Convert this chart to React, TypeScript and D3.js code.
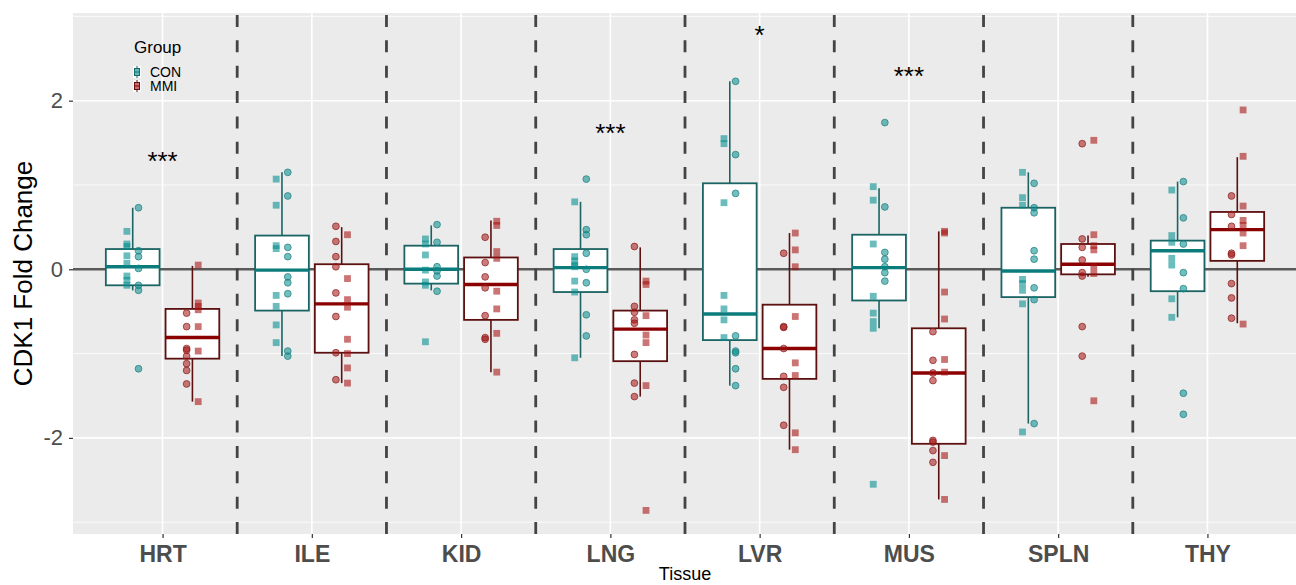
import React, { useEffect, useRef } from 'react';
import * as d3 from 'd3';

// categories and groups
const tissues = ['HRT', 'ILE', 'KID', 'LNG', 'LVR', 'MUS', 'SPLN', 'THY'];
const groups = ['CON', 'MMI'];

// box stats per tissue: [lower whisker, q1, median, q3, upper whisker]
const conBoxes = [
  [-0.25, -0.19, 0.03, 0.24, 0.73],
  [-1.03, -0.49, -0.01, 0.4, 1.15],
  [-0.25, -0.17, 0.0, 0.28, 0.52],
  [-1.05, -0.27, 0.02, 0.24, 0.8],
  [-1.38, -0.84, -0.53, 1.02, 2.23],
  [-0.7, -0.37, 0.02, 0.41, 0.96],
  [-1.83, -0.33, -0.02, 0.73, 1.15],
  [-0.57, -0.26, 0.22, 0.34, 1.04],
];
const mmiBoxes = [
  [-1.57, -1.06, -0.81, -0.47, 0.04],
  [-1.35, -0.99, -0.41, 0.06, 0.5],
  [-1.22, -0.6, -0.18, 0.14, 0.58],
  [-1.51, -1.09, -0.71, -0.49, 0.26],
  [-2.14, -1.3, -0.94, -0.42, 0.43],
  [-2.73, -2.07, -1.23, -0.7, 0.45],
  [-0.09, -0.06, 0.06, 0.3, 0.4],
  [-0.64, 0.1, 0.47, 0.68, 1.33],
];

// individual samples (squares / circles)
const conSquares = [
  [0.45, 0.3, 0.27, 0.16, 0.07, -0.08, -0.13, -0.19],
  [1.07, 0.76, 0.28, 0.245, -0.31, -0.44, -0.66, -0.87],
  [0.36, 0.3, 0.17, -0.01, -0.15, -0.19, -0.86],
  [0.8, 0.15, 0.1, 0.05, 0.03, -0.14, -0.27, -1.05],
  [1.55, 1.49, 0.79, -0.31, -0.47, -0.6, -0.81],
  [0.98, 0.82, 0.3, -0.32, -0.52, -0.62, -0.7, -2.55],
  [1.15, 0.85, 0.76, -0.12, -0.17, -0.25, -0.41, -1.93],
  [0.94, 0.4, 0.32, 0.13, 0.05, -0.35, -0.57],
];
const conCircles = [
  [0.73, 0.22, 0.15, 0.01, -0.19, -0.25, -1.18],
  [1.15, 0.87, 0.26, 0.15, -0.09, -0.16, -0.29, -0.97, -1.03],
  [0.53, 0.32, 0.03, -0.02, -0.08, -0.26],
  [1.07, 0.47, 0.41, 0.19, 0.0, -0.16, -0.54, -0.79],
  [2.23, 1.36, 0.9, -0.79, -0.97, -0.99, -1.18, -1.38],
  [1.74, 0.74, 0.2, 0.12, 0.03, -0.04, -0.14],
  [1.02, 0.73, 0.67, 0.22, 0.12, -0.22, -0.36, -1.83],
  [1.04, 0.61, 0.3, -0.04, -0.23, -1.47, -1.72],
];
const mmiCircles = [
  [-0.52, -0.68, -0.94, -0.96, -1.03, -1.12, -1.2, -1.36],
  [0.51, 0.33, 0.15, 0.03, -0.28, -0.56, -0.99, -1.31],
  [0.38, 0.08, -0.09, -0.22, -0.55, -0.81, -0.83],
  [0.27, -0.44, -0.51, -0.6, -0.64, -1.01, -1.35, -1.51],
  [0.19, -0.68, -0.69, -0.94, -1.27, -1.4, -1.85],
  [-0.74, -1.08, -1.23, -1.32, -2.03, -2.05, -2.15, -2.29],
  [1.49, 0.36, 0.26, 0.11, -0.04, -0.08, -0.68, -1.03],
  [0.87, 0.65, 0.51, 0.19, 0.17, -0.17, -0.34, -0.58],
];
const mmiSquares = [
  [0.05, -0.4, -0.44, -0.48, -0.68, -0.97, -1.57],
  [0.41, -0.11, -0.36, -0.45, -0.83, -1.0, -1.17, -1.35],
  [0.57, 0.52, 0.21, 0.13, -0.26, -0.47, -0.76, -1.22],
  [-0.14, -0.18, -0.55, -0.78, -0.87, -1.38, -2.86],
  [0.43, 0.23, 0.03, -0.56, -1.11, -1.26, -1.94, -2.14],
  [0.45, 0.43, -0.27, -0.59, -1.07, -1.22, -2.21, -2.73],
  [1.53, 0.41, 0.28, 0.23, 0.03, -0.05, -1.56],
  [1.89, 1.34, 0.75, 0.58, 0.52, 0.43, 0.28, -0.65],
];

// significance annotations
const sigTissues = ['HRT', 'LNG', 'LVR', 'MUS'];
const sigLabels = ['***', '***', '*', '***'];
const sigY = [1.32, 1.65, 2.81, 2.33];

const yTicks = [-2, 0, 2];
const yMinor = [-3, -1, 1, 3];

const App = () => {
  const ref = useRef<SVGSVGElement>(null);

  useEffect(() => {
    const width = 1296;
    const height = 585;
    const left = 73;
    const right = 1297;
    const top = 13;
    const bottom = 534;
    const font = '"Liberation Sans", Arial, sans-serif';

    const svg = d3.select(ref.current);
    svg.selectAll('*').remove();
    svg.attr('width', width).attr('height', height);

    const x = d3.scalePoint<string>().domain(tissues).range([left, right]).padding(0.6);
    const step = x.step();
    const dodge = d3.scalePoint<string>().domain(groups).range([-0.2 * step, 0.2 * step]);
    const boxW = 0.36 * step;
    const y = d3.scaleLinear().domain([-3.14, 3.04]).range([bottom, top]);

    const colors: Record<string, any> = {
      CON: { line: '#1b6464', med: '#0b7b7b', pt: '#008b8b', ptStroke: '#1f7f7f' },
      MMI: { line: '#5c1010', med: '#8b0000', pt: '#a50f0f', ptStroke: '#8a2020' },
    };

    // panel
    svg.append('rect').attr('x', left).attr('y', top)
      .attr('width', right - left).attr('height', bottom - top).attr('fill', '#ebebeb');

    const grid = svg.append('g');
    yMinor.forEach(v => {
      grid.append('line').attr('x1', left).attr('x2', right)
        .attr('y1', y(v)).attr('y2', y(v)).attr('stroke', '#fff').attr('stroke-width', 0.8);
    });
    yTicks.forEach(v => {
      grid.append('line').attr('x1', left).attr('x2', right)
        .attr('y1', y(v)).attr('y2', y(v)).attr('stroke', '#fff').attr('stroke-width', 1.6);
    });
    tissues.forEach(t => {
      grid.append('line').attr('x1', x(t)!).attr('x2', x(t)!)
        .attr('y1', top).attr('y2', bottom).attr('stroke', '#fff').attr('stroke-width', 1.6);
    });

    // reference line at 0
    svg.append('line').attr('x1', left).attr('x2', right)
      .attr('y1', y(0)).attr('y2', y(0)).attr('stroke', '#5a5a5a').attr('stroke-width', 2.6);

    // dashed separators between tissues
    tissues.slice(1).forEach(t => {
      const xs = x(t)! - step / 2;
      svg.append('line').attr('x1', xs).attr('x2', xs)
        .attr('y1', bottom).attr('y2', top)
        .attr('stroke', '#444').attr('stroke-width', 2.8)
        .attr('stroke-dasharray', '12 13.35');
    });

    // boxplots
    const drawBoxes = (g: string, boxes: number[][]) => {
      const c = colors[g];
      tissues.forEach((t, i) => {
        const [lo, q1, med, q3, hi] = boxes[i];
        const cx = x(t)! + dodge(g)!;
        const bg = svg.append('g');
        bg.append('line').attr('x1', cx).attr('x2', cx).attr('y1', y(hi)).attr('y2', y(q3))
          .attr('stroke', c.line).attr('stroke-width', 1.6);
        bg.append('line').attr('x1', cx).attr('x2', cx).attr('y1', y(q1)).attr('y2', y(lo))
          .attr('stroke', c.line).attr('stroke-width', 1.6);
        bg.append('rect').attr('x', cx - boxW / 2).attr('y', y(q3))
          .attr('width', boxW).attr('height', y(q1) - y(q3))
          .attr('fill', '#fff').attr('stroke', c.line).attr('stroke-width', 1.8);
        bg.append('line').attr('x1', cx - boxW / 2).attr('x2', cx + boxW / 2)
          .attr('y1', y(med)).attr('y2', y(med))
          .attr('stroke', c.med).attr('stroke-width', 3.4);
      });
    };
    drawBoxes('CON', conBoxes);
    drawBoxes('MMI', mmiBoxes);

    // points
    const drawSquares = (g: string, vals: number[][], off: number) => {
      const c = colors[g];
      tissues.forEach((t, i) => {
        const cx = x(t)! + dodge(g)! + off;
        svg.append('g').selectAll('rect').data(vals[i]).enter().append('rect')
          .attr('x', cx - 3.4).attr('y', d => y(d) - 3.4)
          .attr('width', 6.8).attr('height', 6.8)
          .attr('fill', c.pt).attr('fill-opacity', 0.58);
      });
    };
    const drawCircles = (g: string, vals: number[][], off: number) => {
      const c = colors[g];
      tissues.forEach((t, i) => {
        const cx = x(t)! + dodge(g)! + off;
        svg.append('g').selectAll('circle').data(vals[i]).enter().append('circle')
          .attr('cx', cx).attr('cy', d => y(d)).attr('r', 3.4)
          .attr('fill', c.pt).attr('fill-opacity', 0.55)
          .attr('stroke', c.ptStroke).attr('stroke-opacity', 0.8).attr('stroke-width', 0.9);
      });
    };
    drawSquares('CON', conSquares, -5.8);
    drawCircles('CON', conCircles, 5.8);
    drawCircles('MMI', mmiCircles, -5.8);
    drawSquares('MMI', mmiSquares, 5.8);

    // significance stars
    svg.append('g').selectAll('text').data(sigTissues).enter().append('text')
      .attr('x', d => x(d)!).attr('y', (d, i) => y(sigY[i]) + 12)
      .attr('text-anchor', 'middle').attr('font-family', font).attr('font-size', 26)
      .attr('fill', '#000').text((d, i) => sigLabels[i]);

    // axes
    const ax = svg.append('g').attr('transform', `translate(0,${bottom})`)
      .call(d3.axisBottom(x).tickSize(4).tickPadding(8));
    ax.select('.domain').remove();
    ax.selectAll('line').attr('stroke', '#333').attr('stroke-width', 1.2);
    ax.selectAll('text').attr('font-family', font).attr('font-size', 23)
      .attr('font-weight', 'bold').attr('fill', '#4d4d4d');

    const ay = svg.append('g').attr('transform', `translate(${left},0)`)
      .call(d3.axisLeft(y).tickValues(yTicks).tickFormat(d => String(d)).tickSize(4).tickPadding(6));
    ay.select('.domain').remove();
    ay.selectAll('line').attr('stroke', '#333').attr('stroke-width', 1.2);
    ay.selectAll('text').attr('font-family', font).attr('font-size', 22).attr('fill', '#4d4d4d');

    svg.append('text').attr('x', (left + right) / 2).attr('y', 580)
      .attr('text-anchor', 'middle').attr('font-family', font).attr('font-size', 18)
      .attr('fill', '#000').text('Tissue');
    svg.append('text').attr('transform', `translate(32,${(top + bottom) / 2}) rotate(-90)`)
      .attr('text-anchor', 'middle').attr('font-family', font).attr('font-size', 26)
      .attr('fill', '#000').text('CDK1 Fold Change');

    // legend
    const lg = svg.append('g');
    lg.append('text').attr('x', 134).attr('y', 53).attr('font-family', font)
      .attr('font-size', 17).attr('fill', '#000').text('Group');
    groups.forEach((g, i) => {
      const c = colors[g];
      const ky = 72 + i * 14;
      lg.append('rect').attr('x', 133).attr('y', ky - 6).attr('width', 8).attr('height', 12).attr('fill', '#fff');
      lg.append('line').attr('x1', 137).attr('x2', 137).attr('y1', ky - 6).attr('y2', ky + 6)
        .attr('stroke', c.line).attr('stroke-width', 1);
      lg.append('rect').attr('x', 134.5).attr('y', ky - 3.5).attr('width', 5).attr('height', 7)
        .attr('fill', '#fff').attr('stroke', c.line).attr('stroke-width', 1);
      lg.append('rect').attr('x', 134.5).attr('y', ky - 3).attr('width', 5).attr('height', 6)
        .attr('fill', c.pt).attr('fill-opacity', 0.6);
      lg.append('line').attr('x1', 134.5).attr('x2', 139.5).attr('y1', ky).attr('y2', ky)
        .attr('stroke', c.med).attr('stroke-width', 1);
      lg.append('text').attr('x', 150).attr('y', ky).attr('dy', '0.35em').attr('font-family', font)
        .attr('font-size', 14).attr('fill', '#000').text(g);
    });
  }, []);

  return (
    <div style={{ position: 'absolute', left: 0, top: 0 }}>
      <svg ref={ref} style={{ display: 'block' }}></svg>
    </div>
  );
};

export default App;
